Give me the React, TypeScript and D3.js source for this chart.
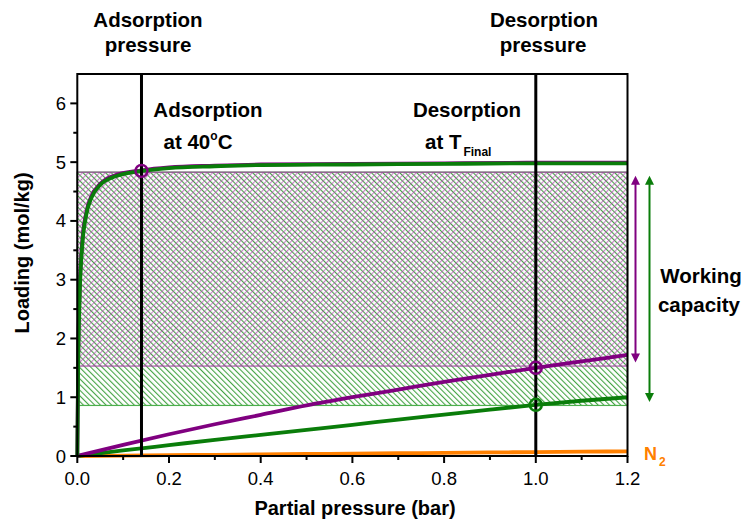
import React from "react";
import * as d3 from "d3";

// ---- data ----
const pressureUpper = [0, 0.002, 0.005, 0.01, 0.02, 0.03, 0.05, 0.08, 0.14, 0.2, 0.3, 0.4, 0.6, 0.8, 1.0, 1.2];
const co2AdsGreen = [0, 1.6, 2.7, 3.5, 4.12, 4.38, 4.61, 4.75, 4.85, 4.9, 4.93, 4.95, 4.96, 4.97, 4.98, 4.98];
const co2AdsPurple = [0, 1.7, 2.8, 3.58, 4.16, 4.41, 4.63, 4.77, 4.86, 4.91, 4.94, 4.96, 4.97, 4.98, 4.99, 4.99];

const pressureLower = [0, 0.1, 0.2, 0.3, 0.4, 0.5, 0.6, 0.7, 0.8, 0.9, 1.0, 1.1, 1.2];
const co2DesPurple = [0, 0.19, 0.37, 0.54, 0.7, 0.86, 1.0, 1.13, 1.26, 1.38, 1.5, 1.61, 1.72];
const co2DesGreen = [0, 0.095, 0.185, 0.275, 0.36, 0.445, 0.53, 0.62, 0.705, 0.79, 0.87, 0.94, 1.0];
const n2Loading = [0, 0.007, 0.014, 0.02, 0.027, 0.034, 0.04, 0.047, 0.054, 0.06, 0.067, 0.073, 0.08];

const adsorptionPressure = 0.14;
const desorptionPressure = 1.0;
const capacityTop = 4.83;
const greenCapacityBottom = 0.86;
const purpleCapacityBottom = 1.53;

const markerPoints = [
  { p: 0.14, q: 4.85, series: "purple" },
  { p: 1.0, q: 1.5, series: "purple" },
  { p: 1.0, q: 0.87, series: "green" },
];

const xTicks = [0, 0.2, 0.4, 0.6, 0.8, 1.0, 1.2];
const xMinorTicks = [0.1, 0.3, 0.5, 0.7, 0.9, 1.1];
const yTicks = [0, 1, 2, 3, 4, 5, 6];
const yMinorTicks = [0.5, 1.5, 2.5, 3.5, 4.5, 5.5];

const GREEN = "#0a7d0a";
const PURPLE = "#800080";
const ORANGE = "#ff8000";
const FONT = "Arial, 'Liberation Sans', sans-serif";

export default function App() {
  const x = d3.scaleLinear().domain([0, 1.2]).range([77.3, 627.5]);
  const y = d3.scaleLinear().domain([0, 6.5]).range([456, 74]);
  const x0 = x(0), x1 = x(1.2), yb = y(0), yt = y(6.5);

  const line = (xs: number[], ys: number[]) =>
    d3
      .line<number>()
      .x((_, i) => x(xs[i]))
      .y((d) => y(d))
      .curve(d3.curveMonotoneX)(ys) || "";

  const colorOf = (s: string) => (s === "green" ? GREEN : PURPLE);

  const purpleArrowX = x1 + 8;
  const greenArrowX = x1 + 22;
  const H = 4; // hatch spacing (perpendicular)

  return (
    <svg
      width={746}
      height={521}
      style={{ position: "absolute", left: 0, top: 0, background: "#fff" }}
      fontFamily={FONT}
    >
      <defs>
        <pattern id="hatchGreen" patternUnits="userSpaceOnUse" width={H} height={H} patternTransform="rotate(-45)">
          <line x1={0.6} y1={0} x2={0.6} y2={H} stroke="#1a8f1a" strokeWidth={0.9} />
        </pattern>
        <pattern id="hatchPurple" patternUnits="userSpaceOnUse" width={H} height={H} patternTransform="rotate(45)">
          <line x1={0.6} y1={0} x2={0.6} y2={H} stroke="#b448b4" strokeWidth={0.75} />
        </pattern>
        <marker id="arrP" viewBox="0 0 10 10" refX={5} refY={5} markerWidth={5} markerHeight={4.5} orient="auto-start-reverse" markerUnits="strokeWidth">
          <path d="M0,0 L10,5 L0,10 z" fill={PURPLE} />
        </marker>
        <marker id="arrG" viewBox="0 0 10 10" refX={5} refY={5} markerWidth={5} markerHeight={4.5} orient="auto-start-reverse" markerUnits="strokeWidth">
          <path d="M0,0 L10,5 L0,10 z" fill={GREEN} />
        </marker>
      </defs>

      {/* working capacity hatches */}
      <rect
        x={x0}
        y={y(capacityTop)}
        width={x1 - x0}
        height={y(greenCapacityBottom) - y(capacityTop)}
        fill="url(#hatchGreen)"
        stroke="#4caf4c"
        strokeWidth={1.2}
      />
      <rect
        x={x0}
        y={y(capacityTop)}
        width={x1 - x0}
        height={y(purpleCapacityBottom) - y(capacityTop)}
        fill="url(#hatchPurple)"
        stroke="#a040a0"
        strokeWidth={1}
      />

      {/* curves */}
      <path d={line(pressureLower, n2Loading)} fill="none" stroke={ORANGE} strokeWidth={3.8} />
      <path d={line(pressureLower, co2DesGreen)} fill="none" stroke={GREEN} strokeWidth={3.8} />
      <path d={line(pressureLower, co2DesPurple)} fill="none" stroke={PURPLE} strokeWidth={3.8} />
      <path d={line(pressureUpper, co2AdsPurple)} fill="none" stroke={PURPLE} strokeWidth={3.8} />
      <path d={line(pressureUpper, co2AdsGreen)} fill="none" stroke={GREEN} strokeWidth={3.8} />

      {/* vertical pressure lines */}
      {[adsorptionPressure, desorptionPressure].map((p) => (
        <line key={p} x1={x(p)} x2={x(p)} y1={yb} y2={yt} stroke="#000" strokeWidth={3} />
      ))}

      {/* markers */}
      {markerPoints.map((m, i) => (
        <circle key={i} cx={x(m.p)} cy={y(m.q)} r={6} fill="none" stroke={colorOf(m.series)} strokeWidth={2.5} />
      ))}

      {/* frame */}
      <rect x={x0} y={yt} width={x1 - x0} height={yb - yt} fill="none" stroke="#000" strokeWidth={2} />

      {/* x axis ticks */}
      {xTicks.map((t) => (
        <g key={"xt" + t}>
          <line x1={x(t)} x2={x(t)} y1={yb} y2={yb + 7} stroke="#000" strokeWidth={2} />
          <text x={x(t)} y={485} fontSize={18.5} textAnchor="middle" fill="#000">
            {d3.format(".1f")(t)}
          </text>
        </g>
      ))}
      {xMinorTicks.map((t) => (
        <line key={"xm" + t} x1={x(t)} x2={x(t)} y1={yb} y2={yb + 4} stroke="#000" strokeWidth={2} />
      ))}

      {/* y axis ticks */}
      {yTicks.map((t) => (
        <g key={"yt" + t}>
          <line x1={x0} x2={x0 - 7} y1={y(t)} y2={y(t)} stroke="#000" strokeWidth={2} />
          <text x={66} y={y(t) + 6.5} fontSize={18.5} textAnchor="end" fill="#000">
            {t}
          </text>
        </g>
      ))}
      {yMinorTicks.map((t) => (
        <line key={"ym" + t} x1={x0} x2={x0 - 4} y1={y(t)} y2={y(t)} stroke="#000" strokeWidth={2} />
      ))}

      {/* axis titles */}
      <text x={355} y={515} fontSize={20} fontWeight="bold" textAnchor="middle">
        Partial pressure (bar)
      </text>
      <text transform={`translate(29,${253}) rotate(-90)`} fontSize={20} fontWeight="bold" textAnchor="middle">
        Loading (mol/kg)
      </text>

      {/* top labels */}
      <g fontSize={20.5} fontWeight="bold" textAnchor="middle">
        <text x={148} y={27}>Adsorption</text>
        <text x={148} y={52}>pressure</text>
        <text x={544} y={27}>Desorption</text>
        <text x={543} y={52}>pressure</text>
        <text x={208} y={117}>Adsorption</text>
        <text x={467} y={117}>Desorption</text>
      </g>
      <text x={198} y={149} fontSize={20.5} fontWeight="bold" textAnchor="middle">
        at 40
        <tspan dy={-9} fontSize={12}>o</tspan>
        <tspan dy={9}>C</tspan>
      </text>
      <text x={425} y={149} fontSize={20.5} fontWeight="bold">
        at T
        <tspan dx={2} dy={7} fontSize={12}>Final</tspan>
      </text>

      {/* working capacity arrows */}
      <line
        x1={purpleArrowX}
        x2={purpleArrowX}
        y1={y(capacityTop) + 8}
        y2={y(purpleCapacityBottom) - 8}
        stroke={PURPLE}
        strokeWidth={2}
        markerStart="url(#arrP)"
        markerEnd="url(#arrP)"
      />
      <line
        x1={greenArrowX}
        x2={greenArrowX}
        y1={y(capacityTop) + 8}
        y2={y(greenCapacityBottom) - 8}
        stroke={GREEN}
        strokeWidth={2}
        markerStart="url(#arrG)"
        markerEnd="url(#arrG)"
      />
      <g fontSize={20.5} fontWeight="bold" textAnchor="middle">
        <text x={701} y={283}>Working</text>
        <text x={699} y={312}>capacity</text>
      </g>

      {/* N2 label */}
      <text x={644} y={460} fontSize={18} fontWeight="bold" fill={ORANGE}>
        N
        <tspan dx={2} dy={6} fontSize={12}>2</tspan>
      </text>
    </svg>
  );
}
